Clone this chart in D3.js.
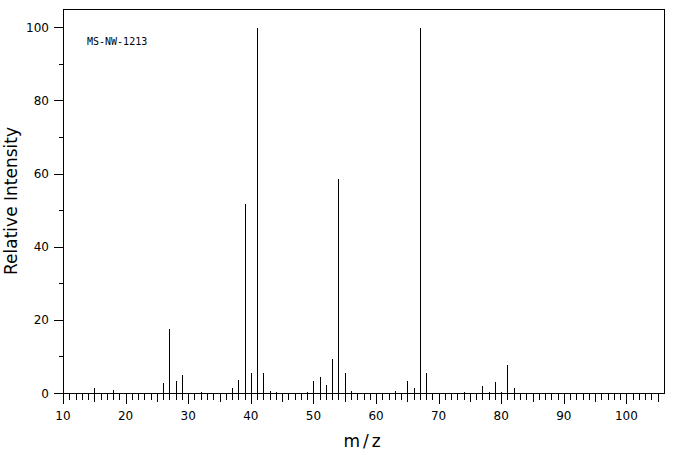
<!DOCTYPE html>
<html>
<head>
<meta charset="utf-8">
<script src="https://cdn.jsdelivr.net/npm/d3@7"></script>
<style>
  html, body { margin: 0; padding: 0; background: #fff; }
  svg { display: block; }
</style>
</head>
<body>
<svg id="chart" width="676" height="455"></svg>
<script>
// ---- data ----
const mzValues = [14, 15, 17, 18, 25, 26, 27, 28, 29, 30, 31, 32, 37, 38, 39, 40, 41, 42, 43, 44,
                  49, 50, 51, 52, 53, 54, 55, 56, 57, 61, 62, 63, 65, 66, 67, 68, 69, 71, 72, 73,
                  74, 75, 77, 78, 79, 80, 81, 82, 83, 84];
const intensities = [0.4, 1.7, 0.4, 1.2, 0.4, 3.1, 17.8, 3.65, 5.3, 0.4, 0.4, 0.6, 1.7, 3.9, 52, 5.8, 100, 5.8, 0.9, 0.6,
                     0.6, 3.65, 4.7, 2.55, 9.7, 58.8, 5.8, 0.9, 0.4, 0.4, 0.4, 0.9, 3.65, 1.7, 100, 5.8, 0.4, 0.4, 0.4, 0.4,
                     0.6, 0.4, 2.3, 0.6, 3.4, 0.6, 8.0, 1.7, 0.4, 0.4];
const xDomain = [10, 106];
const yDomain = [0, 105];
const xTickLabels = [10, 20, 30, 40, 50, 60, 70, 80, 90, 100];
const yTickLabels = [0, 20, 40, 60, 80, 100];
const yMinorTicks = [10, 30, 50, 70, 90];
const sampleLabel = "MS-NW-1213";
const xTitle = "m/z";
const yTitle = "Relative Intensity";

// ---- layout ----
const svg = d3.select("#chart");
const mLeft = 63, mRight = 664, mTop = 9, mBottom = 393;
const x = d3.scaleLinear().domain(xDomain).range([mLeft, mRight]);
const y = d3.scaleLinear().domain(yDomain).range([mBottom, mTop]);
const px = v => Math.round(v) + 0.5;
const tickFont = "'DejaVu Sans', sans-serif";

const g = svg.append("g")
  .attr("stroke", "#000")
  .attr("stroke-width", 1)
  .attr("shape-rendering", "crispEdges");

// frame
g.append("rect")
  .attr("x", px(mLeft)).attr("y", px(mTop))
  .attr("width", Math.round(mRight) - Math.round(mLeft))
  .attr("height", Math.round(mBottom) - Math.round(mTop))
  .attr("fill", "none");

// peaks
g.selectAll("line.peak")
  .data(mzValues.map((m, i) => ({ m, v: intensities[i] })))
  .join("line")
  .attr("class", "peak")
  .attr("x1", d => px(x(d.m))).attr("x2", d => px(x(d.m)))
  .attr("y1", px(y(0))).attr("y2", d => px(y(d.v)));

// x axis ticks (every unit, downward)
const xTicks = d3.range(10, 106, 1);
g.selectAll("line.xtick")
  .data(xTicks)
  .join("line")
  .attr("class", "xtick")
  .attr("x1", d => px(x(d))).attr("x2", d => px(x(d)))
  .attr("y1", px(y(0)))
  .attr("y2", d => px(y(0)) + (d % 10 === 0 ? 10 : d % 5 === 0 ? 8 : 6));

// y axis ticks (leftward)
g.selectAll("line.ytick")
  .data(yTickLabels.concat(yMinorTicks))
  .join("line")
  .attr("class", "ytick")
  .attr("y1", d => px(y(d))).attr("y2", d => px(y(d)))
  .attr("x1", px(mLeft))
  .attr("x2", d => px(mLeft) - (d % 20 === 0 ? 10 : 5));

// x tick labels
svg.selectAll("text.xlab")
  .data(xTickLabels)
  .join("text")
  .attr("class", "xlab")
  .attr("x", d => x(d))
  .attr("y", 420)
  .attr("text-anchor", "middle")
  .attr("font-family", tickFont)
  .attr("font-size", 12)
  .text(d => d);

// y tick labels
svg.selectAll("text.ylab")
  .data(yTickLabels)
  .join("text")
  .attr("class", "ylab")
  .attr("x", mLeft - 14)
  .attr("y", d => y(d) + 4.5)
  .attr("text-anchor", "end")
  .attr("font-family", tickFont)
  .attr("font-size", 12)
  .text(d => d);

// titles
svg.append("text")
  .attr("x", (mLeft + mRight) / 2)
  .attr("y", 447)
  .attr("text-anchor", "middle")
  .attr("font-family", tickFont)
  .attr("font-size", 17)
  .attr("letter-spacing", 3)
  .text(xTitle);

svg.append("text")
  .attr("transform", `translate(16.5, ${(mTop + mBottom) / 2}) rotate(-90)`)
  .attr("text-anchor", "middle")
  .attr("font-family", tickFont)
  .attr("font-size", 17)
  .text(yTitle);

svg.append("text")
  .attr("x", 87)
  .attr("y", 44.5)
  .attr("font-family", "'DejaVu Sans Mono', monospace")
  .attr("font-size", 10)
  .text(sampleLabel);
</script>
</body>
</html>
